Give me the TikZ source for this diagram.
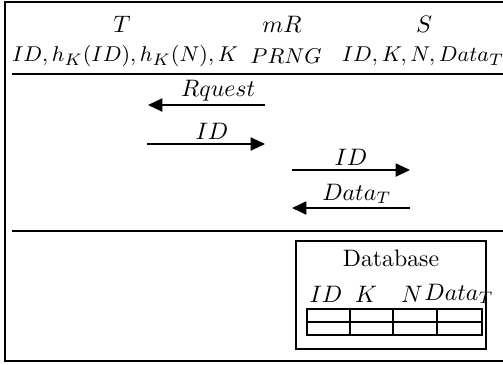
\documentclass[tikz,border=0pt]{standalone}
\usepackage{amssymb,amsmath}
\usetikzlibrary{arrows.meta}
\begin{document}
\begin{tikzpicture}[x=0.42pt,y=-0.42pt,
    msg/.style={line width=0.65pt,-{Triangle[length=6pt,width=5.5pt]}},
    rule/.style={line width=0.65pt},
    keys/.style={font=\fontsize{9.5}{11}\selectfont},
    lbl/.style={above,inner sep=1.5pt}]
\useasboundingbox (0,0) rectangle (503,364);
\draw[rule] (503,2) -- (5,2) -- (5,361) -- (503,361);
\node (T) at (122,24) {$T$};
\node (mR) at (282,24) {$mR$};
\node (S) at (424,24) {$S$};
\node[keys] (Tdata) at (125,56) {$ID, h_K(ID), h_K(N), K$};
\node[keys] (mRdata) at (286,56) {$PRNG$};
\node[keys] (Sdata) at (423,56) {$ID, K, N, Data_T$};
\draw[rule] (12,74) -- (503,74);
\coordinate (t1) at (148,105);
\coordinate (r1) at (265,105);
\coordinate (t2) at (147,144);
\coordinate (r2) at (265,144);
\coordinate (r3) at (292,170);
\coordinate (s3) at (410,170);
\coordinate (r4) at (292,208);
\coordinate (s4) at (410,208);
\draw[msg] (r1) -- (t1) node[lbl,pos=0.4] {$Rquest$};
\draw[msg] (t2) -- (r2) node[lbl,pos=0.55] {$ID$};
\draw[msg] (r3) -- (s3) node[lbl,midway] {$ID$};
\draw[msg] (s4) -- (r4) node[lbl,pos=0.45] {$Data_T$};
\draw[rule] (12,231) -- (503,231);
\draw[rule] (296,241) rectangle (486,349);
\node (db) at (391,258) {Database};
\node (dbID) at (326,294) {$ID$};
\node (dbK) at (366,294) {$K$};
\node (dbN) at (412,294) {$N$};
\node (dbData) at (459,294) {$Data_T$};
\draw[rule] (307,309) rectangle (482,335);
\draw[rule] (307,322) -- (482,322);
\foreach \x in {350,393,437}
  \draw[rule] (\x,309) -- (\x,335);
\end{tikzpicture}
\end{document}
